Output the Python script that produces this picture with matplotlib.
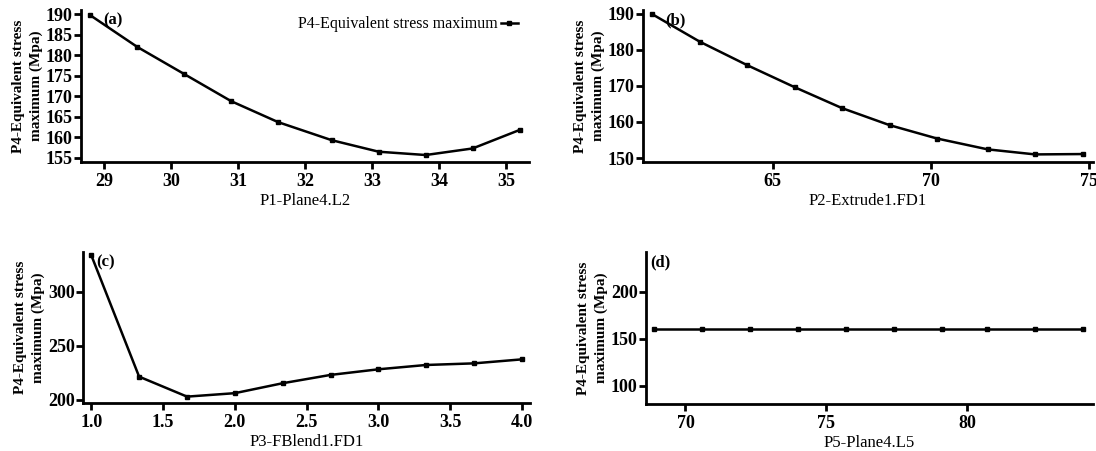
import matplotlib
matplotlib.use("Agg")
import matplotlib.pyplot as plt

plt.rcParams['font.family'] = ['Liberation Serif', 'DejaVu Serif']

# Data
a_x = [28.8, 29.5, 30.2, 30.9, 31.6, 32.4, 33.1, 33.8, 34.5, 35.2]
a_y = [189.7, 182.0, 175.4, 168.8, 163.7, 159.3, 156.5, 155.7, 157.3, 161.8]

b_x = [61.2, 62.7, 64.2, 65.7, 67.2, 68.7, 70.2, 71.8, 73.3, 74.8]
b_y = [189.8, 182.2, 175.7, 169.6, 163.8, 159.1, 155.4, 152.4, 151.0, 151.1]

c_x = [1.0, 1.333, 1.667, 2.0, 2.333, 2.667, 3.0, 3.333, 3.667, 4.0]
c_y = [333.9, 221.6, 203.1, 206.3, 215.5, 223.2, 228.4, 232.4, 233.9, 237.6]

d_x = [68.9, 70.6, 72.3, 74.0, 75.7, 77.4, 79.1, 80.7, 82.4, 84.1]
d_y = [160.6, 160.6, 160.6, 160.6, 160.6, 160.6, 160.6, 160.6, 160.6, 160.6]

x_labels = ["P1-Plane4.L2", "P2-Extrude1.FD1", "P3-FBlend1.FD1", "P5-Plane4.L5"]
y_label = "P4-Equivalent stress\nmaximum (Mpa)"
panel_tags = ["(a)", "(b)", "(c)", "(d)"]
legend_label = "P4-Equivalent stress maximum"

W, H = 1096, 451
fig = plt.figure(figsize=(W / 100, H / 100), dpi=100)

def rect(l, r, t, b):
    return [l / W, 1 - b / H, (r - l) / W, (b - t) / H]

boxes = [rect(81, 529, 10, 162), rect(643, 1093, 10, 162),
         rect(83, 530, 252, 403), rect(646, 1093, 252, 404)]
xs = [a_x, b_x, c_x, d_x]
ys = [a_y, b_y, c_y, d_y]
xlims = [(28.66, 35.34), (60.9, 75.13), (0.942, 4.057), (68.6, 84.46)]
ylims = [(154.0, 191.0), (148.9, 191.0), (197.2, 337.0), (80.5, 242.5)]
xticks = [[29, 30, 31, 32, 33, 34, 35], [65, 70, 75],
          [1.0, 1.5, 2.0, 2.5, 3.0, 3.5, 4.0], [70, 75, 80]]
yticks = [[155, 160, 165, 170, 175, 180, 185, 190], [150, 160, 170, 180, 190],
          [200, 250, 300], [100, 150, 200]]
xfmt = ["{:.0f}", "{:.0f}", "{:.1f}", "{:.0f}"]
tag_x = [0.05, 0.05, 0.03, 0.01]

for i in range(4):
    ax = fig.add_axes(boxes[i])
    ax.plot(xs[i], ys[i], color='black', lw=1.8, marker='s', ms=2.5,
            label=legend_label)
    ax.set_xlim(*xlims[i])
    ax.set_ylim(*ylims[i])
    ax.set_xticks(xticks[i])
    ax.set_xticklabels([xfmt[i].format(v) for v in xticks[i]],
                       fontsize=13, fontweight='bold')
    ax.set_yticks(yticks[i])
    ax.set_yticklabels([str(v) for v in yticks[i]], fontsize=13,
                       fontweight='bold')
    for s in ['top', 'right']:
        ax.spines[s].set_visible(False)
    for s in ['left', 'bottom']:
        ax.spines[s].set_linewidth(2.0)
    ax.tick_params(axis='x', direction='out', length=5, width=2.0, pad=3)
    ax.tick_params(axis='y', direction='out', length=5, width=2.0, pad=1)
    ax.set_xlabel(x_labels[i], fontsize=12, labelpad=2)
    ax.set_ylabel(y_label, fontsize=11, fontweight='bold', labelpad=2,
                  linespacing=1.4)
    ax.text(tag_x[i], 0.985, panel_tags[i], transform=ax.transAxes,
            fontsize=12, fontweight='bold', va='top', ha='left')
    if i == 0:
        ax.legend(loc='upper right', frameon=False, markerfirst=False,
                  fontsize=11.5, handlelength=1.1, handletextpad=0.2,
                  borderaxespad=0.0, bbox_to_anchor=(0.99, 1.0))

fig.savefig("out.png", dpi=100)
